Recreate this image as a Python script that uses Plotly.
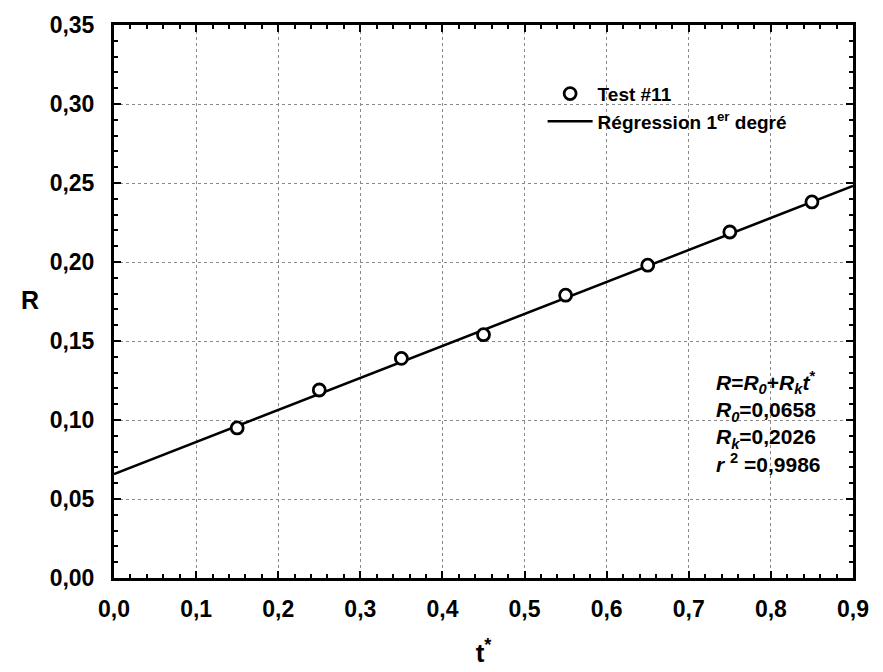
import plotly.graph_objects as go

# Measured points (Test #11)
t_star = [0.15, 0.25, 0.35, 0.45, 0.55, 0.65, 0.75, 0.85]
r_vals = [0.095, 0.119, 0.139, 0.154, 0.179, 0.198, 0.219, 0.238]

# First-degree regression R = R0 + Rk * t*
R0 = 0.0658
Rk = 0.2026
r2 = 0.9986
fit_t = [0.0, 0.9]
fit_r = [R0 + Rk * t for t in fit_t]

x_ticks = [0.0, 0.1, 0.2, 0.3, 0.4, 0.5, 0.6, 0.7, 0.8, 0.9]
y_ticks = [0.00, 0.05, 0.10, 0.15, 0.20, 0.25, 0.30, 0.35]

FONT = "Liberation Sans, Arial, sans-serif"


def fr(v, nd):
    return f"{v:.{nd}f}".replace(".", ",")


fig = go.Figure()
fig.add_trace(go.Scatter(
    x=fit_t, y=fit_r, mode="lines", name="<b>Régression 1<sup>er</sup> degré</b>",
    line=dict(color="black", width=2.5), legendrank=2,
))
fig.add_trace(go.Scatter(
    x=t_star, y=r_vals, mode="markers", name="<b>Test #11</b>",
    marker=dict(symbol="circle", size=12, color="white",
                line=dict(width=2.8, color="black")),
    legendrank=1,
))

fig.add_annotation(
    x=0.731, y=0.134, xref="x", yref="y", xanchor="left", yanchor="top",
    showarrow=False, align="left",
    font=dict(family=FONT, size=21, color="black"),
    text=("<b><i>R</i>=<i>R</i><sub><i>0</i></sub>+<i>R</i><sub><i>k</i></sub><i>t</i><sup>*</sup></b><br>"
          f"<b><i>R</i><sub><i>0</i></sub>={fr(R0, 4)}</b><br>"
          f"<b><i>R</i><sub><i>k</i></sub>={fr(Rk, 4)}</b><br>"
          f"<b><i>r</i> <sup>2</sup> ={fr(r2, 4)}</b>"),
)

# Horizontal y-axis title
fig.add_annotation(
    x=-0.114, y=0.503, xref="paper", yref="paper", xanchor="center", yanchor="middle",
    showarrow=False, text="<b>R</b>",
    font=dict(family=FONT, size=25, color="black"),
)

axis_common = dict(
    showline=True, linewidth=3, linecolor="black", mirror="allticks",
    ticks="inside", ticklen=7, tickwidth=2, tickcolor="black",
    showgrid=True, gridcolor="#8a8a8a", gridwidth=1, griddash="dot",
    zeroline=False, automargin=False,
    tickfont=dict(family=FONT, size=23, color="black", weight="bold"),
)

fig.update_xaxes(
    **axis_common, range=[0, 0.9], tickvals=x_ticks,
    ticktext=[fr(v, 1) for v in x_ticks], ticklabelstandoff=8,
    minor=dict(dtick=0.02, ticks="inside", ticklen=4, tickcolor="black", tickwidth=2, showgrid=False),
    title=dict(text="<b>t<sup>*</sup></b>", font=dict(family=FONT, size=26, color="black"), standoff=24),
)
fig.update_yaxes(
    **axis_common, range=[0, 0.35], tickvals=y_ticks,
    ticktext=[fr(v, 2) for v in y_ticks], ticklabelstandoff=12,
    minor=dict(dtick=0.01, ticks="inside", ticklen=4, tickcolor="black", tickwidth=2, showgrid=False),
)

fig.update_layout(
    width=883, height=672,
    margin=dict(l=114, r=30, t=25, b=94),
    plot_bgcolor="white", paper_bgcolor="white",
    showlegend=True,
    legend=dict(x=0.58, y=0.91, xanchor="left", yanchor="top",
                bgcolor="rgba(0,0,0,0)", borderwidth=0, itemwidth=45,
                font=dict(family=FONT, size=19, color="black"),
                tracegroupgap=4),
)

fig.write_html("out.html")
